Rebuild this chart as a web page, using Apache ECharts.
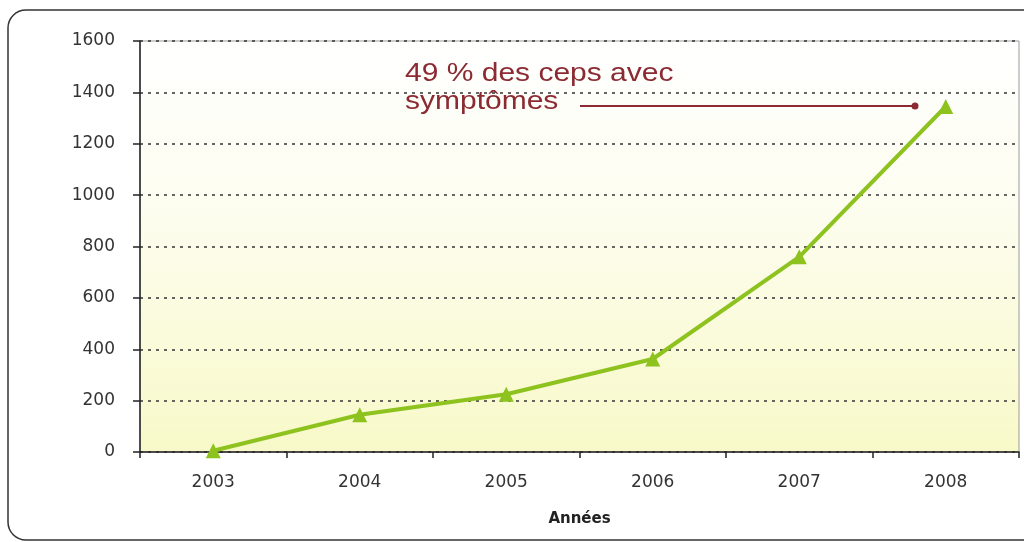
<!DOCTYPE html>
<html>
<head>
<meta charset="utf-8">
<script src="https://cdn.jsdelivr.net/npm/echarts@6/dist/echarts.min.js"></script>
<style>
  html, body { margin: 0; padding: 0; background: #fff; }
  #chart { width: 1024px; height: 542px; }
</style>
</head>
<body>
<div id="chart"></div>
<script>
// données
const annees = ["2003", "2004", "2005", "2006", "2007", "2008"];
const cepsSymptomes = [5, 145, 225, 362, 760, 1345];
const noteLignes = ["49 % des ceps avec", "symptômes"];

const chart = echarts.init(document.getElementById("chart"));
const red = "#8b2a32";
const green = "#8dc21f";

const option = {
  animation: false,
  backgroundColor: "#fff",
  grid: {
    left: 140, right: 5, top: 41, bottom: 90,
    show: true,
    borderColor: "#9a9a9a",
    borderWidth: 1,
    backgroundColor: {
      type: "linear", x: 0, y: 0, x2: 0, y2: 1,
      colorStops: [
        { offset: 0, color: "#ffffff" },
        { offset: 0.4, color: "#fdfdf0" },
        { offset: 1, color: "#f8f9c8" }
      ]
    }
  },
  xAxis: {
    type: "category",
    data: annees,
    boundaryGap: true,
    name: "Années",
    nameLocation: "middle",
    nameGap: 60,
    nameTextStyle: { fontFamily: "DejaVu Sans", fontWeight: "bold", fontSize: 15, color: "#222" },
    axisLine: { lineStyle: { color: "#222", width: 1.5 } },
    axisTick: { show: true, length: 6, lineStyle: { color: "#222", width: 1.5 } },
    axisLabel: { fontFamily: "DejaVu Sans", fontSize: 17, color: "#333", margin: 22 }
  },
  yAxis: {
    type: "value",
    min: 0, max: 1600, interval: 200,
    axisLine: { show: true, lineStyle: { color: "#222", width: 1.5 } },
    axisTick: { show: true, length: 7, lineStyle: { color: "#222", width: 1.5 } },
    axisLabel: {
      fontFamily: "DejaVu Sans", fontSize: 17, color: "#333", margin: 25,
      formatter: (v) => String(v)
    },
    splitLine: { show: true, lineStyle: { color: "#333", type: [3, 5], width: 1.5 } }
  },
  series: [{
    type: "line",
    data: cepsSymptomes,
    symbol: "triangle",
    symbolSize: 15,
    lineStyle: { color: green, width: 4 },
    itemStyle: { color: green }
  }],
  graphic: [
    {
      type: "rect", silent: true,
      shape: { x: 8, y: 10, width: 1040, height: 530, r: 18 },
      style: { fill: "none", stroke: "#333", lineWidth: 1.5 }
    },
    {
      type: "text", x: 405, y: 74, scaleX: 1.2,
      style: { x: 0, y: 0, text: noteLignes[0], font: "25px 'Liberation Sans'", fill: red, textVerticalAlign: "middle" }
    },
    {
      type: "text", x: 405, y: 102, scaleX: 1.2,
      style: { x: 0, y: 0, text: noteLignes[1], font: "25px 'Liberation Sans'", fill: red, textVerticalAlign: "middle" }
    },
    {
      type: "line",
      shape: { x1: 580, y1: 106, x2: 915, y2: 106 },
      style: { stroke: red, lineWidth: 2 }
    },
    {
      type: "circle",
      shape: { cx: 915, cy: 106, r: 3.5 },
      style: { fill: red }
    }
  ]
};
chart.setOption(option);
</script>
</body>
</html>
